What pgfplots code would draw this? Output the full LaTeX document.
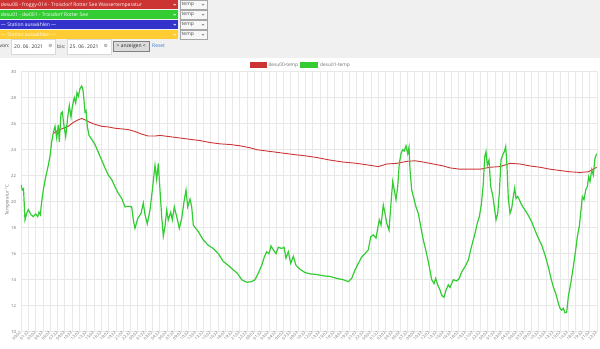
\documentclass[border=0pt]{standalone}
\usepackage{fontspec}
\setmainfont{Open Sans}
\newfontfamily\dejavu{DejaVu Sans}
\usepackage{pgfplots}
\pgfplotsset{compat=1.18}
\definecolor{cred}{RGB}{204,51,51}
\definecolor{cgreen}{RGB}{51,204,51}
\definecolor{cblue}{RGB}{51,51,204}
\definecolor{cyellow}{RGB}{255,204,51}
\definecolor{uibg}{RGB}{240,240,240}
\definecolor{gridc}{RGB}{232,232,232}
\definecolor{tickc}{RGB}{110,110,110}
\definecolor{linkc}{RGB}{58,127,208}
\newcommand{\uif}{\fontsize{5}{6}\selectfont}
\begin{document}
\begin{tikzpicture}
\useasboundingbox (0,0) rectangle (600bp,349bp);
\begin{scope}[x=1bp,y=1bp]
\fill[uibg] (0,291) rectangle (600,349);
% select rows
\foreach \k/\c/\t in {0/cred/{desu08 - froggy-014 - Troisdorf Rotter See Wassertemperatur},1/cgreen/{desu01 - dw001 - Troisdorf Rotter See},2/cblue/{--- Station auswählen ---},3/cyellow/{--- Station auswählen ---}}{
  \fill[\c] (0,{349-10*\k-9.3}) rectangle (178,{349-10*\k});
  \node[anchor=west,inner sep=0,text=white,font=\uif] at (0.8,{349-10*\k-4.7}) {\t};
  \draw[white,line width=0.5] (173.5,{349-10*\k-4}) -- (174.7,{349-10*\k-5.3}) -- (175.9,{349-10*\k-4});
  \fill[white!97!black] (180,{349-10*\k-9.3}) rectangle (207,{349-10*\k});
  \draw[black!35,line width=0.4] (180,{349-10*\k-9.3}) rectangle (207,{349-10*\k});
  \node[anchor=west,inner sep=0,text=black!70,font=\uif] at (181.5,{349-10*\k-4.7}) {temp};
  \draw[black!55,line width=0.4] (201.8,{349-10*\k-4}) -- (203,{349-10*\k-5.3}) -- (204.2,{349-10*\k-4});
}
% date row
\node[anchor=west,inner sep=0,font=\uif,text=black!80] at (-0.6,302.5) {von:};
\fill[white] (11.5,295) rectangle (55,310);
\draw[black!15,line width=0.4] (11.5,295) rectangle (55,310);
\node[anchor=west,inner sep=0,font=\uif,text=black!80] at (14,302.5) {20\,.\,06\,.\,2021};
\node[inner sep=0,font=\dejavu\fontsize{4.5}{5}\selectfont,text=black!60] at (50.3,302.7) {⚙};
\node[anchor=west,inner sep=0,font=\uif,text=black!80] at (57,302.5) {bis:};
\fill[white] (67,295) rectangle (111,310);
\draw[black!15,line width=0.4] (67,295) rectangle (111,310);
\node[anchor=west,inner sep=0,font=\uif,text=black!80] at (69.5,302.5) {25\,.\,06\,.\,2021};
\node[inner sep=0,font=\dejavu\fontsize{4.5}{5}\selectfont,text=black!60] at (106,302.7) {⚙};
\fill[black!14] (113,298) rectangle (149.5,308);
\draw[black!50,line width=0.5] (113,298) rectangle (149.5,308);
\node[inner sep=0,font=\uif,text=black!85] at (131.2,303) {> anzeigen <};
\node[anchor=west,inner sep=0,font=\uif,text=linkc] at (152,302.8) {Reset};
% legend
\fill[cred] (250,281) rectangle (266.5,287);
\node[anchor=west,inner sep=0,font=\fontsize{4.8}{6}\selectfont,text=tickc] at (268.3,284) {desu00-temp};
\fill[cgreen] (300,281) rectangle (317.5,287);
\node[anchor=west,inner sep=0,font=\fontsize{4.8}{6}\selectfont,text=tickc] at (320,284) {desu01-temp};
% y label
\node[rotate=90,inner sep=0,font=\fontsize{4.5}{5}\selectfont,text=tickc] at (7.5,149) {Temperatur °C};
\end{scope}
\begin{axis}[
  at={(21bp,17.3bp)}, anchor=south west,
  scale only axis, width=576bp, height=260bp,
  xmin=21, xmax=597, ymin=10, ymax=30,
  ytick={10,12,...,30},
  xtick={21,28.29,...,597},
  xticklabels={00:02,01:32,03:02,04:32,06:02,07:32,09:02,10:32,12:02,13:32,15:02,16:32,18:02,19:32,21:02,22:32,
  00:02,01:32,03:02,04:32,06:02,07:32,09:02,10:32,12:02,13:32,15:02,16:32,18:02,19:32,21:02,22:32,
  00:02,01:32,03:02,04:32,06:02,07:32,09:02,10:32,12:02,13:32,15:02,16:32,18:02,19:32,21:02,22:32,
  00:02,01:32,03:02,04:32,06:02,07:32,09:02,10:32,12:02,13:32,15:02,16:32,18:02,19:32,21:02,22:32,
  00:02,01:32,03:02,04:32,06:02,07:32,09:02,10:32,12:02,13:32,15:02,16:32,18:02,19:32,21:02,22:32},
  grid=major, grid style={draw=gridc,line width=0.5bp},
  axis line style={draw=gridc,line width=0.5bp},
  major tick length=0pt,
  /pgf/number format/assume math mode=true,
  tick label style={font=\fontsize{4.3}{5}\selectfont,text=tickc},
  yticklabel style={xshift=-1.5bp},
  xticklabel style={rotate=45,anchor=east,inner sep=0.6bp,font=\fontsize{4}{5}\selectfont},
  clip=true,
]
\addplot[draw=cred,line width=0.9bp] coordinates {
(53.3,25.25)(58.3,25.5)(63.3,25.65)(68.3,25.8)(73.3,26.1)(78.3,26.3)(81.7,26.4)(85,26.3)(90,26.1)(95,25.95)
(101.7,25.8)(108.3,25.75)(115,25.65)(121.7,25.6)(128.3,25.55)(135,25.4)(141.7,25.2)(148.3,25.05)(155,25.05)
(160,25.1)(170,25.0)(180,24.9)(190,24.8)(200,24.7)(210,24.55)(220,24.45)(230,24.4)(240,24.3)(250,24.15)
(256.7,24.0)(266.7,23.9)(276.7,23.8)(286.7,23.7)(296.7,23.6)(303.3,23.55)(316.7,23.4)(330,23.2)(343.3,23.05)
(356.7,22.95)(370,22.8)(378.3,22.7)(386.7,22.9)(396.7,22.95)(406.7,23.1)(415,23.15)(423.3,23.05)(433.3,22.9)
(443.3,22.75)(450,22.6)(460,22.5)(470,22.5)(480,22.5)(490,22.65)(500,22.7)(510,22.95)(520,22.9)(530,22.75)
(540,22.65)(550,22.5)(560,22.4)(570,22.3)(580,22.25)(588.3,22.3)(596.7,22.65)
};
\addplot[draw=cgreen,line width=1.2bp] coordinates {
(21,21.3)(22.3,20.9)(23.5,21.0)(25,18.6)(26.7,19.1)(28.3,19.4)(31,19.0)(33.3,18.85)(35.7,19.05)(37.7,18.85)
(39,19.2)(40.3,19.0)(41.7,20.0)(43.3,20.9)(45.7,21.9)(48.3,22.8)(50,23.5)(51.7,24.6)(53.3,25.3)(55,25.8)
(56.7,24.9)(58.3,25.9)(59.3,24.6)(61,26.8)(62.3,26.9)(63.7,26.0)(65.7,25.0)(67.7,26.5)(69.3,27.4)(71,26.5)
(72.3,27.3)(74.3,28.0)(75.7,27.6)(77,28.4)(78.3,28.1)(80,28.7)(81.7,28.9)(83,28.6)(84,27.8)(85,26.9)
(86,27.0)(87.3,25.8)(89,25.1)(91.7,24.8)(95,24.4)(98.3,23.8)(101.7,23.2)(105,22.6)(108.3,22.05)(111.7,21.7)
(115,21.15)(118.3,20.65)(121.7,20.25)(125,19.6)(128.3,19.65)(131.7,19.6)(133.3,18.6)(135,17.95)(137.7,18.7)
(141,19.1)(143.3,19.9)(145,19.0)(147.3,18.3)(150,19.35)(152.7,21.15)(155,22.8)(156.7,21.7)(158.3,22.95)
(160,20.9)(161.7,18.85)(163.3,17.35)(165,18.1)(166.7,19.35)(168.3,18.6)(170.7,19.2)(172.3,18.6)(174.3,19.6)
(176.7,18.85)(179.3,17.95)(181.7,18.7)(184,20.0)(186,20.9)(187.7,19.6)(190,20.2)(191.7,19.6)(193.3,18.2)
(198.3,17.7)(203.3,17.05)(208.3,16.65)(213.3,16.4)(218.3,16.0)(223.3,15.4)(228.3,15.1)(233.3,14.75)
(237.3,14.5)(241.7,14.0)(246.7,13.8)(251.7,13.85)(255,14.0)(258.3,14.5)(261.7,15.1)(264.3,15.75)(266.7,16.15)
(269,16.0)(271,16.6)(273.3,16.3)(276,16.0)(278.3,16.5)(281.7,16.4)(284,16.5)(286,15.65)(288.3,16.15)
(290.7,15.25)(293.3,15.8)(296,15.1)(300,14.8)(305,14.55)(310,14.45)(316.7,14.4)(323.3,14.3)(330,14.25)
(336.7,14.1)(343.3,14.0)(348.3,13.85)(351.7,14.1)(355,14.75)(358.3,15.25)(361.7,15.75)(365,16.0)(368.3,16.3)
(370.7,17.3)(373.3,17.45)(376,17.2)(377.7,17.95)(379.3,18.6)(381,18.2)(383.3,19.75)(385,19.1)(386.7,18.35)
(389,17.8)(391,19.9)(392.7,21.55)(394.3,20.9)(396,20.15)(397.7,21.15)(399.3,22.95)(401,23.7)(402.7,24.0)
(404.3,23.9)(406,24.3)(407.7,23.7)(409,24.2)(410,22.45)(411.7,20.9)(413.3,20.4)(416,19.6)(418.3,19.1)
(420.7,18.1)(423.3,17.05)(425.7,16.3)(427.3,15.75)(429.3,15.0)(431.7,14.0)(434,13.7)(435.7,14.1)(437.7,13.6)
(440,13.2)(441.7,12.8)(444,12.65)(446,13.2)(448.3,13.6)(450,13.4)(453.3,14.0)(456.7,13.9)(459.3,14.1)
(461.7,14.6)(465,15.0)(468.3,15.5)(470.7,16.3)(472.7,16.9)(475,17.55)(477.3,18.35)(479.3,18.85)(481.3,19.75)
(483.3,21.4)(484.7,23.45)(486,23.85)(487.3,22.8)(489,23.2)(490.7,21.15)(492.7,20.5)(494.3,19.6)(496,18.6)
(497.7,19.1)(499.3,20.65)(501,23.2)(502.7,23.6)(504.3,23.85)(505.7,24.25)(507,22.7)(508.3,20.25)(510,19.1)
(511.7,19.5)(513.3,20.4)(514.7,21.05)(516,20.25)(517.7,20.4)(519.3,20.15)(521.7,19.75)(525,19.35)(528.3,18.95)
(531.7,18.45)(535,17.8)(538.3,17.2)(541.7,16.65)(545,15.9)(548.3,15.0)(551,14.1)(553.3,13.45)(555.7,12.95)
(558.3,12.2)(560,11.8)(561.7,11.65)(563.3,11.8)(565,11.45)(566.7,11.5)(568.3,12.7)(570.7,13.7)(573.3,15.0)
(575.7,16.3)(577.3,17.3)(579.3,18.1)(581,19.35)(582.3,20.4)(584,20.15)(585.7,20.9)(587.3,21.15)(588.7,21.9)
(590,21.55)(591.7,22.45)(593.3,22.05)(595,23.35)(596.7,23.7)
};
\end{axis}
\end{tikzpicture}
\end{document}
